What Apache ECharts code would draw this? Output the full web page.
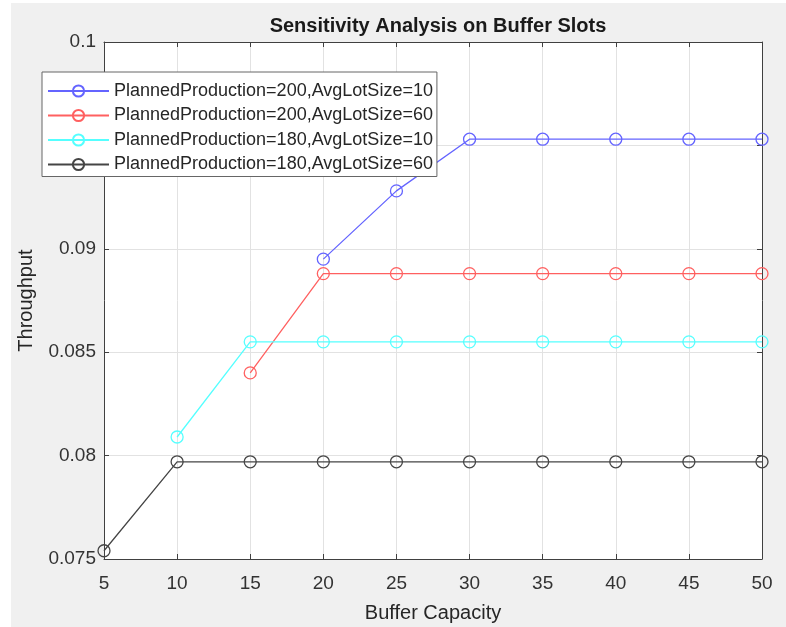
<!DOCTYPE html>
<html>
<head>
    <meta charset="utf-8">
    <title>Sensitivity Analysis on Buffer Slots</title>
    <script src="https://cdn.jsdelivr.net/npm/echarts@6/dist/echarts.min.js"></script>
    <style>
        body { margin: 0; background: #fff; }
        #main { position: absolute; left: 11px; top: 3px; width: 775px; height: 624px; background: #f0f0f0; }
    </style>
</head>
<body>
<div id="main"></div>
<script type="text/javascript">

    // buffer capacity (x axis)
    var capacity = [5, 10, 15, 20, 25, 30, 35, 40, 45, 50];

    var seriesNames = [
        'PlannedProduction=200,AvgLotSize=10',
        'PlannedProduction=200,AvgLotSize=60',
        'PlannedProduction=180,AvgLotSize=10',
        'PlannedProduction=180,AvgLotSize=60'
    ];

    // throughput, null = no point
    var pp200lot10 = [null, null, null, 0.0895, 0.0928, 0.0953, 0.0953, 0.0953, 0.0953, 0.0953];
    var pp200lot60 = [null, null, 0.0840, 0.0888, 0.0888, 0.0888, 0.0888, 0.0888, 0.0888, 0.0888];
    var pp180lot10 = [null, 0.0809, 0.0855, 0.0855, 0.0855, 0.0855, 0.0855, 0.0855, 0.0855, 0.0855];
    var pp180lot60 = [0.0754, 0.0797, 0.0797, 0.0797, 0.0797, 0.0797, 0.0797, 0.0797, 0.0797, 0.0797];

    var colors = ['#6464ff', '#ff6060', '#55ffff', '#454545'];

    function pairs(vals) {
        var out = [];
        for (var i = 0; i < capacity.length; i++) {
            if (vals[i] != null) out.push([capacity[i], vals[i]]);
        }
        return out;
    }

    var allData = [pp200lot10, pp200lot60, pp180lot10, pp180lot60];
    var series = [];
    for (var k = 0; k < allData.length; k++) {
        series.push({
            name: seriesNames[k],
            type: 'line',
            data: pairs(allData[k]),
            symbol: 'circle',
            symbolSize: 12,
            showAllSymbol: true,
            color: colors[k],
            lineStyle: { width: 1.3, color: colors[k] },
            itemStyle: { color: 'transparent', borderColor: colors[k], borderWidth: 1.3 },
            emphasis: { disabled: true },
            animation: false
        });
    }

    var fontName = '"Liberation Sans", Arial, sans-serif';
    var myChart = echarts.init(document.getElementById('main'));

    myChart.setOption({
        animation: false,
        title: {
            text: 'Sensitivity Analysis on Buffer Slots',
            left: 422,
            top: 8,
            textAlign: 'center',
            textStyle: { fontFamily: fontName, fontSize: 20, fontWeight: 'bold', color: '#1a1a1a' }
        },
        legend: {
            orient: 'vertical',
            left: 31,
            top: 69,
            padding: [10, 4, 3, 5],
            itemWidth: 61,
            itemHeight: 14,
            itemGap: 6.5,
            backgroundColor: '#fff',
            borderColor: '#666',
            borderWidth: 1,
            borderRadius: 0,
            z: 10,
            textStyle: { fontFamily: fontName, fontSize: 18, color: '#262626' },
            data: seriesNames
        },
        grid: {
            left: 93,
            top: 39,
            right: 24,
            bottom: 68,
            outerBoundsMode: 'none',
            containLabel: false,
            show: true,
            backgroundColor: '#fff',
            borderWidth: 0
        },
        xAxis: [{
            type: 'value',
            min: 5,
            max: 50,
            interval: 5,
            name: 'Buffer Capacity',
            nameLocation: 'middle',
            nameGap: 44,
            nameTextStyle: { fontFamily: fontName, fontSize: 20, color: '#262626' },
            axisLine: { show: true, onZero: false, lineStyle: { color: '#404040', width: 1 } },
            axisTick: { show: true, inside: true, length: 5, lineStyle: { color: '#404040' } },
            axisLabel: { fontFamily: fontName, fontSize: 19, color: '#333', margin: 15 },
            splitLine: { show: true, lineStyle: { color: '#e2e2e2', width: 1 } }
        }, {
            type: 'value',
            position: 'top',
            min: 5,
            max: 50,
            interval: 5,
            axisLine: { show: true, onZero: false, lineStyle: { color: '#404040', width: 1 } },
            axisTick: { show: true, inside: true, length: 5, lineStyle: { color: '#404040' } },
            axisLabel: { show: false },
            splitLine: { show: false }
        }],
        yAxis: [{
            type: 'value',
            min: 0.075,
            max: 0.1,
            interval: 0.005,
            name: 'Throughput',
            nameLocation: 'middle',
            nameGap: 68,
            nameTextStyle: { fontFamily: fontName, fontSize: 20, color: '#262626' },
            axisLine: { show: true, onZero: false, lineStyle: { color: '#404040', width: 1 } },
            axisTick: { show: true, inside: true, length: 5, lineStyle: { color: '#404040' } },
            axisLabel: {
                fontFamily: fontName, fontSize: 19, color: '#333', margin: 8,
                formatter: function (v) { return String(+v.toFixed(3)); }
            },
            splitLine: { show: true, lineStyle: { color: '#e2e2e2', width: 1 } }
        }, {
            type: 'value',
            position: 'right',
            min: 0.075,
            max: 0.1,
            interval: 0.005,
            axisLine: { show: true, onZero: false, lineStyle: { color: '#404040', width: 1 } },
            axisTick: { show: true, inside: true, length: 5, lineStyle: { color: '#404040' } },
            axisLabel: { show: false },
            splitLine: { show: false }
        }],
        series: series
    });
</script>
</body>
</html>
